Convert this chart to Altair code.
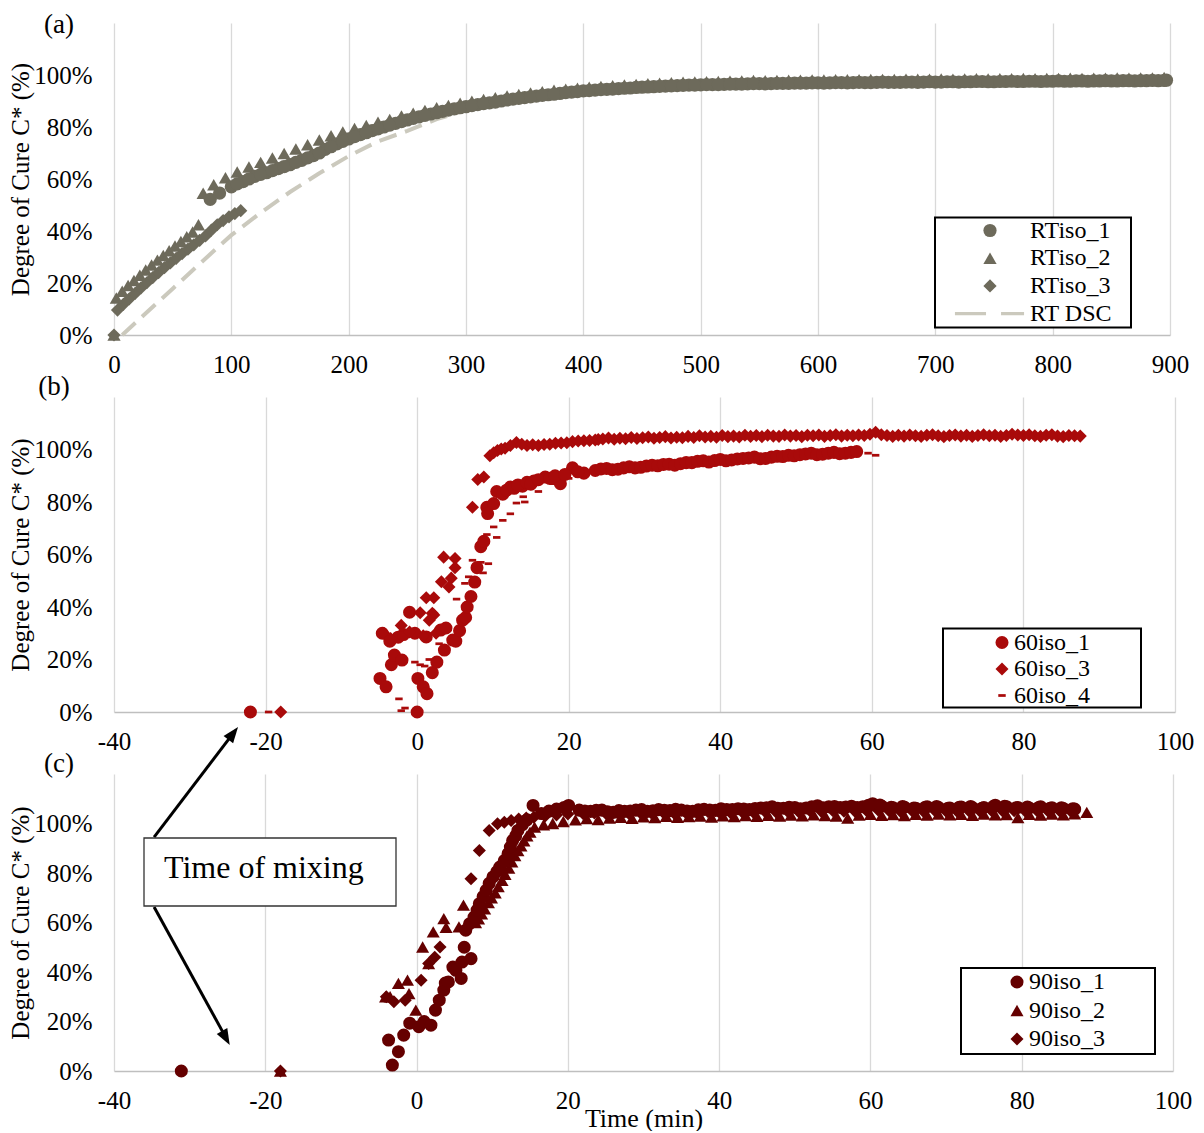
import altair as alt
import pandas as pd

FONT = "Liberation Serif"
GRAY = "#6D6A5B"
RED = "#A90A0A"
MAROON = "#650000"
DSC_COLOR = "#CBC9BD"
GRID = "#D9D9D9"

# ---------------- Panel (a): room temperature ----------------
rt1_t = [82, 90, 100, 110, 120, 130, 140, 150, 160, 170, 180, 190, 200, 210, 220, 230, 240, 250, 260, 270,
         280, 290, 300, 310, 320, 330, 340, 350, 360, 370, 380, 390, 400, 410, 420, 430, 440, 450, 460, 470,
         480, 490, 500, 510, 520, 530, 540, 550, 560, 570, 580, 590, 600, 610, 620, 630, 640, 650, 660, 670,
         680, 690, 700, 710, 720, 730, 740, 750, 760, 770, 780, 790, 800, 810, 820, 830, 840, 850, 860, 870,
         880, 890, 897,
         105, 115, 125, 135, 145, 155, 165, 175, 185, 195,
         205, 215, 225, 235, 245, 255, 265, 275, 285, 295,
         305, 315, 325, 335, 345, 355, 365, 375, 385, 395,
         405, 415, 425, 435, 445, 455, 465, 475, 485, 495,
         505, 515, 525, 535, 545, 555, 565, 575, 585, 595,
         605, 615, 625, 635, 645, 655, 665, 675, 685, 695,
         705, 715, 725, 735, 745, 755, 765, 775, 785, 795,
         805, 815, 825, 835, 845, 855, 865, 875, 885, 895]
rt1_c = [52.2, 54.6,
         57.0, 59.0, 61.0, 62.4, 64.0, 65.5, 67.2, 69.0, 71.4, 73.5,
         75.4, 77.1, 78.6, 80.0, 81.4, 82.7, 83.9, 85.0, 86.0, 87.0,
         87.8, 88.6, 89.3, 90.0, 90.7, 91.3, 91.9, 92.4, 92.9, 93.4,
         93.9, 94.2, 94.5, 94.8, 95.0, 95.3, 95.5, 95.7, 95.9, 96.1,
         96.2, 96.3, 96.4, 96.5, 96.6, 96.7, 96.7, 96.8, 96.9, 96.9,
         97.0, 97.0, 97.1, 97.1, 97.1, 97.2, 97.2, 97.2, 97.3, 97.3,
         97.3, 97.4, 97.3, 97.4, 97.5, 97.4, 97.5, 97.5, 97.6, 97.5,
         97.6, 97.6, 97.7, 97.6, 97.7, 97.7, 97.8, 97.7, 97.8, 97.8,
         98.0,
         58.1, 60.0, 61.8, 63.2, 64.8, 66.4, 68.1, 70.0, 72.4, 74.5,
         76.3, 77.8, 79.3, 80.7, 82.1, 83.3, 84.5, 85.5, 86.5, 87.4,
         88.2, 89.0, 89.6, 90.4, 91.0, 91.6, 92.2, 92.6, 93.2, 93.6,
         94.0, 94.4, 94.6, 94.9, 95.2, 95.4, 95.6, 95.8, 96.0, 96.1,
         96.3, 96.3, 96.5, 96.5, 96.7, 96.6, 96.8, 96.8, 96.9, 97.0,
         96.9, 97.1, 97.0, 97.2, 97.1, 97.3, 97.2, 97.3, 97.2, 97.4,
         97.3, 97.4, 97.4, 97.5, 97.4, 97.5, 97.6, 97.5, 97.6, 97.6,
         97.7, 97.6, 97.7, 97.7, 97.8, 97.7, 97.8, 97.8, 97.9, 97.9]

rt2_t = [0, 2, 7, 12, 17, 22, 27, 32, 37, 42, 47, 52, 57, 62, 67, 72,
         76, 85, 95, 105, 115, 125, 135, 145, 155, 165, 175,
         185, 195, 205, 215, 225, 235, 245, 255, 265, 275,
         285, 295, 305, 315, 325, 335, 345, 355, 365, 375,
         385, 395, 405, 415, 425, 435, 445, 455, 465, 475,
         485, 495, 505, 515, 525, 535, 545, 555, 565, 575,
         585, 595, 605, 615, 625, 635, 645, 655, 665, 675,
         685, 695, 705, 715, 725, 735, 745, 755, 765, 775,
         785, 795, 805, 815, 825, 835, 845, 855, 865, 875,
         885, 895]
rt2_c = [0, 14.2, 16.8, 19.0, 21.0, 23.0, 25.0, 26.9, 28.8, 30.6, 32.4, 34.2, 36.0, 37.8, 39.6, 42.4,
         54.5, 57.8, 60.5, 62.7, 64.6, 66.4, 68.1, 69.8, 71.5, 73.2, 75.0,
         76.6, 78.1, 79.4, 80.6, 81.8, 82.9, 84.2, 85.3, 86.4, 87.4,
         88.3, 89.1, 89.9, 90.6, 91.3, 91.9, 92.5, 93.1, 93.6, 94.1,
         94.5, 94.9, 95.3, 95.6, 95.9, 96.2, 96.4, 96.6, 96.8, 97.0,
         97.2, 97.3, 97.4, 97.5, 97.6, 97.7, 97.9, 97.8, 97.9, 98.0,
         98.0, 98.1, 98.1, 98.2, 98.2, 98.2, 98.3, 98.3, 98.3, 98.4,
         98.4, 98.4, 98.5, 98.4, 98.5, 98.6, 98.5, 98.6, 98.6, 98.7,
         98.6, 98.7, 98.7, 98.8, 98.7, 98.8, 98.8, 98.9, 98.8, 98.9,
         98.9, 99.0]

rt3_t = [0, 3, 8, 13, 18, 23, 28, 33, 38, 43, 48, 53, 58, 63, 68, 73, 78, 83, 88, 93, 98, 103, 108]
rt3_c = [0, 9.6, 11.8, 13.9, 16.0, 18.1, 20.1, 22.1, 24.0, 25.9, 27.7, 29.5, 31.3, 33.0, 34.7, 36.4,
         38.1, 40.3, 42.4, 44.0, 45.4, 46.7, 47.8]

dsc_t = [7, 25, 50, 75, 100, 125, 150, 175, 200, 225, 250, 275, 300, 325, 350, 400, 450, 500]
dsc_c = [0, 7.5, 17.8, 28.2, 38.4, 47.0, 55.0, 62.2, 68.8, 74.5, 78.5, 83.0, 86.5, 89.0, 91.2, 94.0, 95.6, 96.5]

# ---------------- Panel (b): 60 °C ----------------
b1_t = [-22.0, -4.9, -4.6, -4.1, -3.6, -3.4, -3.0, -2.5, -2.0, -1.8,
        -1.0, -0.3, 0.0, 0.1, 0.8, 1.2, 1.3, 2.0, 2.6, 3.1,
        3.6, 3.8, 4.7, 5.1, 5.6, 6.0, 6.4, 6.6, 7.1, 7.6,
        7.9, 8.4, 8.8, 9.2, 9.3, 10.1, 10.5, 11.3, 12.3, 13.9,
        15.4, 16.9, 18.9, 20.5, 22.0, 11.8, 12.8, 13.3, 14.5, 15.0,
        16.0, 17.5, 18.2, 19.5, 21.2,
        23.5, 24.25, 25.0, 25.75, 26.5, 27.25, 28.0, 28.75, 29.5, 30.25,
        31.0, 31.75, 32.5, 33.25, 34.0, 34.75, 35.5, 36.25, 37.0, 37.75,
        38.5, 39.25, 40.0, 40.75, 41.5, 42.25, 43.0, 43.75, 44.5, 45.25,
        46.0, 46.75, 47.5, 48.25, 49.0, 49.75, 50.5, 51.25, 52.0, 52.75,
        53.5, 54.25, 55.0, 55.75, 56.5, 57.25, 58.0]
b1_c = [0, 12.8, 30, 9.6, 27, 18, 21.7, 28.5, 19.8, 29.5,
        38, 30, 0, 12.8, 9.6, 28.6, 7, 15, 19, 31.2,
        23.6, 32, 27.4, 27, 31, 35, 36, 40, 44, 49.5,
        55, 63, 65, 78, 75.6, 79.4, 84, 83, 85.7, 86,
        88, 89.5, 87, 93, 91, 84.5, 85.2, 86.5, 87.5, 86.8,
        88.5, 89.0, 90.0, 90.5, 91.5,
        92.0, 92.6, 92.8, 92.3, 92.5, 93.0, 93.4, 93.0, 93.2, 93.7,
        94.0, 93.8, 94.3, 94.4, 94.0, 94.6, 95.0, 95.0, 95.5, 95.7,
        95.2, 95.8, 96.2, 95.7, 96.0, 96.4, 96.6, 96.8, 97.1, 96.5,
        96.6, 97.1, 97.4, 97.3, 97.8, 97.6, 98.0, 98.3, 98.6, 98.0,
        98.2, 98.6, 98.9, 98.4, 98.6, 98.9, 99.2]

b3_t = [-18.0, -4.4, -3.5, -2.1, -1.0, 0.4, 0.8, 1.2, 2.2, 2.2,
        2.5, 3.2, 3.5, 4.5, 5.0, 5.0, 7.3, 8.0, 8.8, 9.6,
        10.6, 11.6, 13.1, 14.5, 16.0, 17.5, 19.0, 20.5, 22.0, 23.5,
        4.2, 2.0, 1.6, 10.1, 11.1, 12.3, 13.8, 15.25, 16.75, 18.25,
        19.75, 21.25, 22.75, 23.9,
        24.5, 25.25, 26.0, 26.75, 27.5, 28.25, 29.0, 29.75, 30.5, 31.25,
        32.0, 32.75, 33.5, 34.25, 35.0, 35.75, 36.5, 37.25, 38.0, 38.75,
        39.5, 40.25, 41.0, 41.75, 42.5, 43.25, 44.0, 44.75, 45.5, 46.25,
        47.0, 47.75, 48.5, 49.25, 50.0, 50.75, 51.5, 52.25, 53.0, 53.75,
        54.5, 55.25, 56.0, 56.75, 57.5, 58.25, 59.0, 59.75, 60.5, 61.25,
        62.0, 62.75, 63.5, 64.25, 65.0, 65.75, 66.5, 67.25, 68.0, 68.75,
        69.5, 70.25, 71.0, 71.75, 72.5, 73.25, 74.0, 74.75, 75.5, 76.25,
        77.0, 77.75, 78.5, 79.25, 80.0, 80.75, 81.5, 82.25, 83.0, 83.75,
        84.5, 85.25, 86.0, 86.75, 87.5]
b3_c = [0, 30, 28, 33, 30.5, 37.8, 29, 43.5, 43.5, 37,
        30, 49.6, 59, 51, 55, 58.5, 78, 88.6, 89.5, 97.6,
        99.6, 100.5, 102.7, 101.5, 101.5, 102, 102.5, 103, 103.3, 103.6,
        47.6, 37.6, 35, 98.8, 100.2, 101.5, 102.0, 101.8, 101.9, 102.4,
        102.6, 103.2, 103.4, 103.8,
        104.0, 104.4, 103.9, 104.3, 104.1, 104.6, 104.2, 104.5, 104.8, 104.3,
        104.6, 104.9, 104.4, 104.7, 104.5, 105.0, 104.6, 105.2, 104.8, 105.0,
        104.7, 105.3, 104.9, 105.1, 104.8, 105.4, 105.0, 105.3, 104.9, 105.4,
        105.1, 105.0, 105.5, 105.1, 105.3, 104.9, 105.4, 105.2, 105.5, 105.0,
        105.3, 105.6, 105.1, 105.4, 105.2, 105.5, 105.3, 105.8, 106.6, 105.6,
        105.3, 105.0, 105.4, 105.1, 105.5, 105.2, 105.0, 105.4, 105.6, 105.2,
        104.9, 105.3, 105.5, 105.1, 105.4, 105.0, 105.3, 105.6, 105.2, 105.4,
        105.0, 105.3, 105.8, 105.5, 105.3, 105.6, 105.2, 105.0, 105.4, 105.6,
        105.1, 104.9, 105.3, 105.2, 105.1]

b4_t = [-19.6, -2.4, -2.1, -1.6, -0.3, 0.4, 1.0, 1.6, 2.9, 5.2,
        6.3, 6.8, 7.3, 8.4, 8.7, 9.4, 9.2, 10.5, 10.1, 11.3,
        12.3, 13.1, 14.2, 14.0, 16.0, 18.0, 20.0, 22.0, 25.0, 28.0,
        31.0, 34.0, 37.0, 40.0, 43.0, 46.0, 49.0, 52.0, 55.0, 58.0,
        59.5, 60.5]
b4_c = [0, 5, 0.5, 1.5, 19, 18, 17.5, 20, 26, 43,
        49, 51.5, 57.8, 57, 53, 56.5, 67.6, 66.5, 70.5, 73,
        75.5, 79.6, 80, 82, 84, 87, 89, 90, 92.5, 93.2,
        93.9, 94.2, 95.2, 96.0, 96.5, 96.8, 97.6, 98.3, 98.7, 99.0,
        98.6, 97.8]

# ---------------- Panel (c): 90 °C ----------------
c1_t = [-31.1, -3.7, -3.2, -2.4, -1.7, -0.9, 0.3, 1.0, 1.9, 2.5,
        3.0, 3.6, 3.8, 4.2, 4.8, 5.2, 5.9, 6.0, 6.3, 7.2,
        6.5, 7.0, 7.6, 8.0, 8.3, 8.8, 9.2, 9.6, 10.1, 10.6,
        11.0, 11.6, 12.1, 12.4, 12.7, 13.1, 13.4, 14.0, 14.6, 15.4,
        16.5, 17.5, 18.5, 19.5, 20.1,
        21.5, 23.0, 24.5, 26.0, 27.5, 29.0, 30.5, 32.0, 33.5, 35.0,
        36.5, 38.0, 39.5, 41.0, 42.5, 44.0, 45.5, 47.0, 48.5, 50.0,
        51.5, 53.0, 54.5, 56.0, 57.5, 59.0, 60.3, 61.5, 63.0, 64.5,
        66.0, 67.5, 69.0, 70.5, 72.0, 73.5, 75.0, 76.5, 78.0, 79.5,
        81.0, 82.5, 84.0, 85.5, 87.0,
        22.25, 23.75, 25.25, 26.75, 28.25, 29.75, 31.25, 32.75, 34.25, 35.75,
        37.25, 38.75, 40.25, 41.75, 43.25, 44.75, 46.25, 47.75, 49.25, 50.75,
        52.25, 53.75, 55.25, 56.75, 58.25, 59.75, 61.25, 62.75, 64.25, 65.75,
        67.25, 68.75, 70.25, 71.75, 73.25, 74.75, 76.25, 77.75, 79.25, 80.75,
        82.25, 83.75, 85.25, 86.75]
c1_c = [0, 12.5, 2.4, 7.8, 14.5, 19.3, 17.9, 20, 18.5, 24.6,
        28.6, 32.7, 35.5, 36, 42, 40.7, 37.4, 44, 50, 45.4,
        56.9, 59.5, 62.2, 65, 67.6, 70.5, 73, 75.8, 78.4, 80.5,
        82.4, 85, 87.8, 90.5, 93.1, 95, 97.2, 99.5, 101.5, 107.3,
        104.0, 105.0, 105.8, 106.5, 107.3,
        105.4, 104.9, 105.4, 104.5, 104.9, 105.4, 104.9, 105.6, 105.2, 105.4,
        104.9, 105.7, 105.3, 105.6, 106.0, 105.6, 106.3, 106.8, 106.2, 106.5,
        106.3, 107.2, 106.8, 106.5, 107.0, 106.8, 108.0, 107.0, 106.4, 106.6,
        106.2, 106.8, 106.5, 106.3, 106.7, 106.4, 106.5, 107.4, 106.8, 106.5,
        106.3, 106.8, 106.4, 106.1, 105.8,
        105.0, 105.3, 104.7, 105.2, 105.0, 105.6, 105.1, 105.3, 105.7, 105.0,
        105.5, 105.4, 106.0, 105.6, 105.9, 106.1, 106.4, 106.2, 106.6, 106.0,
        106.8, 106.4, 106.9, 106.7, 106.5, 107.4, 107.5, 106.6, 106.9, 106.3,
        106.6, 106.9, 106.2, 106.6, 106.9, 106.2, 106.9, 107.0, 106.4, 106.7,
        106.5, 106.2, 106.4, 106.0]

c2_t = [-18.0, -4.1, -3.5, -2.4, -1.2, -1.0, -0.1, 0.8, 1.6, 2.2,
        3.6, 3.9, 5.6, 6.2, 7.8, 8.6, 9.5, 10.4, 11.3, 12.2,
        13.0, 13.8, 14.6, 15.6, 16.8, 18.0, 19.4,
        8.2, 9.0, 9.9, 10.8, 11.7, 12.6, 13.4, 14.2, 15.0,
        21.0, 22.5, 24.0, 25.5, 27.0, 28.5, 30.0, 31.5, 33.0, 34.5,
        36.0, 37.5, 39.0, 40.5, 42.0, 43.5, 45.0, 46.5, 48.0, 49.5,
        51.0, 52.5, 54.0, 55.5, 57.0, 58.5, 60.0, 61.5, 63.0, 64.5,
        66.0, 67.5, 69.0, 70.5, 72.0, 73.5, 75.0, 76.5, 78.0, 79.5,
        81.0, 82.5, 84.0, 85.5, 87.0, 88.6]
c2_c = [0, 30, 30, 35.4, 36.7, 31.3, 24.6, 50.1, 43.4, 56.2,
        61.6, 58, 58.2, 67, 60, 63.5, 68, 72, 77, 82,
        87, 91, 95, 98.5, 99.5, 100, 100.8,
        61.5, 65.5, 70, 74.5, 79.5, 84.5, 89, 93, 96.5,
        101.5, 102.0, 101.6, 102.2, 102.5, 102.1, 102.7, 102.4, 102.9, 102.5,
        102.8, 103.0, 102.6, 103.1, 102.8, 103.2, 102.9, 103.3, 103.0, 103.4,
        103.1, 103.5, 103.2, 103.0, 102.2, 103.4, 103.7, 103.3, 103.6, 103.2,
        103.7, 103.4, 103.8, 103.5, 103.7, 103.3, 103.8, 103.5, 103.6, 102.4,
        103.7, 103.4, 103.8, 103.5, 103.9, 104.5]

c3_t = [-18.0, -4.0, -3.0, -1.5, 0.6, 1.6, 2.4, 3.1, 7.2, 8.3,
        9.6, 10.7, 11.6, 12.5, 13.5, 14.5, 15.5, 17.0, 18.5, 20.0,
        22.0, 23.5, 25.0, 26.5, 28.0, 29.5, 31.0, 32.5, 34.0, 35.5,
        37.0, 38.5, 40.0, 41.5, 43.0, 44.5, 46.0, 47.5, 49.0, 50.5,
        52.0, 53.5, 55.0, 56.5, 58.0, 59.5, 61.0, 62.5, 64.0, 65.5,
        67.0, 68.5, 70.0, 71.5, 73.0, 74.5, 76.0, 77.5, 79.0, 80.5,
        82.0, 83.5, 85.0, 86.5]
c3_c = [0, 30, 28, 28.6, 36.7, 43.4, 46, 50.1, 77.7, 89.1,
        97.2, 99.9, 100.5, 101.2, 101.8, 102.2, 102.5, 103, 103.4, 103.8,
        104.0, 104.3, 104.1, 104.5, 104.2, 104.6, 104.4, 104.8, 104.3, 104.7,
        104.5, 104.9, 104.6, 104.4, 104.8, 104.6, 105.0, 104.7, 105.1, 104.8,
        105.2, 104.9, 105.3, 105.0, 104.8, 105.2, 105.5, 105.1, 104.8, 105.2,
        104.9, 105.3, 105.0, 104.8, 105.2, 104.9, 105.3, 105.0, 105.2, 104.9,
        105.3, 105.0, 105.2, 104.9]

# annotation "Time of mixing" arrows (panel c data units)
arrow_x0 = [-34.7, -34.7]
arrow_y0 = [0.945, 0.663]
arrow_xe = [-24.4, -25.3]
arrow_ye = [1.358, 0.140]
arrow_xt = [-23.6, -24.7]
arrow_yt = [1.390, 0.105]
arrow_ang = [37.4, 151.2]

# symbols
DSC_PATH = "M-5.3,-0.25H-0.6V0.25H-5.3Z M1.67,-0.25H5.15V0.25H1.67Z"
DASH_PATH = "M-0.57,-0.21H0.57V0.21H-0.57Z"
ARROW_PATH = "M0,0L0.6,1.6L-0.6,1.6Z"


def frame_of(pairs):
    parts = []
    for name, t, c in pairs:
        parts.append(pd.DataFrame({"t": t, "c": [v / 100 for v in c], "series": name}))
    return pd.concat(parts, ignore_index=True)


def x_axis(values, title=None):
    kw = dict(values=values, grid=True, gridColor=GRID, gridWidth=1.3, domainColor="#BFBFBF",
              domainWidth=1.5, ticks=False, labelFont=FONT, labelFontSize=25, labelColor="black",
              labelPadding=17, labelFlush=False, labelOverlap=False, labelExpr="'' + datum.value")
    if title:
        kw.update(title=title, titleFont=FONT, titleFontSize=26, titleFontWeight="normal",
                  titleColor="black", titlePadding=-8)
    else:
        kw.update(title=None)
    return alt.Axis(**kw)


def y_axis():
    return alt.Axis(values=[0, 0.2, 0.4, 0.6, 0.8, 1.0], format=".0%", grid=False, domain=False,
                    ticks=False, labelFont=FONT, labelFontSize=25, labelColor="black", labelPadding=22,
                    title="Degree of Cure C* (%)", titleFont=FONT, titleFontSize=25,
                    titleFontWeight="normal", titleColor="black", titlePadding=0)


def enc_x(field, dom, vals, title=None):
    return alt.X(field, scale=alt.Scale(domain=dom, nice=False, zero=False), axis=x_axis(vals, title))


def enc_y(field):
    return alt.Y(field, scale=alt.Scale(domain=[0, 1.2], nice=False, zero=False), axis=y_axis())


def legend(x, y, row_pad, sym_off, lab_off, size):
    return alt.Legend(title=None, orient="none", legendX=x, legendY=y, padding=0, rowPadding=row_pad,
                      symbolOffset=sym_off, labelOffset=lab_off, symbolSize=size, symbolStrokeWidth=0,
                      labelFont=FONT, labelFontSize=24, labelColor="black", labelLimit=400)


def points(df, names, shapes, colors, size, dom, vals, lg, title=None):
    return alt.Chart(df).mark_point(filled=True, opacity=1, size=size, strokeWidth=0).encode(
        x=enc_x("t:Q", dom, vals, title),
        y=enc_y("c:Q"),
        shape=alt.Shape("series:N", scale=alt.Scale(domain=names, range=shapes), legend=lg),
        color=alt.Color("series:N", scale=alt.Scale(domain=names, range=colors), legend=lg),
    )


def box(x1, x2, y1, y2, stroke="black", sw=2.0):
    return alt.Chart(pd.DataFrame({"k": [0]})).mark_rect(fill="white", stroke=stroke, strokeWidth=sw).encode(
        x=alt.value(x1), x2=alt.value(x2), y=alt.value(y1), y2=alt.value(y2))


def tag(text, x, y, size=27, align="center", baseline="middle"):
    return alt.Chart(pd.DataFrame({"lbl": [text]})).mark_text(
        font=FONT, fontSize=size, color="black", align=align, baseline=baseline).encode(
        text="lbl:N", x=alt.value(x), y=alt.value(y))


XA = [0, 100, 200, 300, 400, 500, 600, 700, 800, 900]
XB = [-40, -20, 0, 20, 40, 60, 80, 100]

# ---- panel a
names_a = ["RTiso_1", "RTiso_2", "RTiso_3", "RT DSC"]
df_a = frame_of([("RTiso_3", rt3_t, rt3_c), ("RTiso_2", rt2_t, rt2_c), ("RTiso_1", rt1_t, rt1_c)])
df_dsc = pd.DataFrame({"t": dsc_t, "c": [v / 100 for v in dsc_c]})
lg_a = legend(841, 195.5, 3.7, 23, 28, 175)
line_a = alt.Chart(df_dsc).mark_line(color=DSC_COLOR, strokeWidth=4, strokeDash=[18, 9]).encode(
    x=enc_x("t:Q", [0, 900], XA), y=enc_y("c:Q"))
pts_a = points(df_a, names_a, ["circle", "triangle-up", "diamond", DSC_PATH],
               [GRAY, GRAY, GRAY, DSC_COLOR], 175, [0, 900], XA, lg_a)
panel_a = alt.layer(line_a, pts_a, box(821, 1017, 194.5, 304.5), tag("(a)", -55, 2)).properties(
    width=1056, height=312)

# ---- panel b
names_b = ["60iso_1", "60iso_3", "60iso_4"]
df_b = frame_of([("60iso_4", b4_t, b4_c), ("60iso_1", b1_t, b1_c), ("60iso_3", b3_t, b3_c)])
lg_b = legend(876, 233.5, 2.5, 0, 0, 170)
pts_b = points(df_b, names_b, ["circle", "diamond", DASH_PATH], [RED, RED, RED], 170, [-40, 100], XB, lg_b)
panel_b = alt.layer(pts_b, box(829, 1027, 231.5, 310.5), tag("(b)", -60, -10)).properties(
    width=1061, height=315)

# ---- panel c
names_c = ["90iso_1", "90iso_2", "90iso_3"]
df_c = frame_of([("90iso_3", c3_t, c3_c), ("90iso_2", c2_t, c2_c), ("90iso_1", c1_t, c1_c)])
lg_c = legend(891, 196, 4.5, 0, 0, 170)
pts_c = points(df_c, names_c, ["circle", "triangle-up", "diamond"], [MAROON, MAROON, MAROON], 170,
               [-40, 100], XB, lg_c, title="Time (min)")
df_arrow = pd.DataFrame({"x0": arrow_x0, "y0": arrow_y0, "xe": arrow_xe, "ye": arrow_ye,
                         "xt": arrow_xt, "yt": arrow_yt, "ang": arrow_ang})
rules_c = alt.Chart(df_arrow).mark_rule(color="black", strokeWidth=3, clip=False).encode(
    x=enc_x("x0:Q", [-40, 100], XB, "Time (min)"), y=enc_y("y0:Q"), x2="xe:Q", y2="ye:Q")
heads_c = alt.Chart(df_arrow).mark_point(shape=ARROW_PATH, filled=True, opacity=1, size=400, color="black",
                                         strokeWidth=0, clip=False).encode(
    x=enc_x("xt:Q", [-40, 100], XB, "Time (min)"), y=enc_y("yt:Q"), angle=alt.Angle("ang:Q", scale=None))
panel_c = alt.layer(
    pts_c, rules_c, heads_c,
    box(30, 282, 64, 132, stroke="#333333", sw=1.3),
    tag("Time of mixing", 50, 104, size=32, align="left", baseline="alphabetic"),
    box(847, 1041, 194, 280),
    tag("(c)", -55, -10),
).properties(width=1059, height=297)

chart = alt.vconcat(panel_a, panel_b, panel_c, spacing=62, bounds="flush").resolve_scale(
    color="independent", shape="independent").resolve_legend(
    color="independent", shape="independent").properties(
    padding={"top": 3, "left": 0, "right": 0, "bottom": 0}).configure_view(strokeWidth=0)

chart.save("out.html", embed_options={"renderer": "svg", "actions": False})
